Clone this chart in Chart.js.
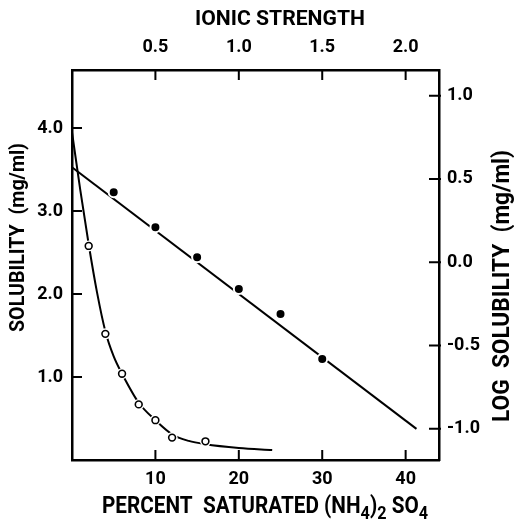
<!DOCTYPE html>
<html>
<head>
<meta charset="utf-8">
<script src="https://cdn.jsdelivr.net/npm/chart.js@4/dist/chart.umd.min.js"></script>
<style>
html, body { margin: 0; padding: 0; background: #fff; }
</style>
</head>
<body>
<canvas id="chart" width="514" height="522"></canvas>
<script>
// tick values on the four axes
const pctTicks = [10, 20, 30, 40];            // bottom: percent saturated (NH4)2SO4
const ionicTicks = [0.5, 1.0, 1.5, 2.0];      // top: ionic strength
const solTicks = [1, 2, 3, 4];                // left: solubility (mg/ml)
const logTicks = [1.0, 0.5, 0.0, -0.5, -1.0]; // right: log solubility

// open circles (solubility, left axis)
const openPct = [2, 4, 6, 8, 10, 12, 16];
const openSol = [2.58, 1.52, 1.04, 0.67, 0.48, 0.27, 0.225];

// hand drawn curve through the open circles
const curvePct = [0, 1, 2, 3, 4, 5, 6, 8, 10, 12, 14, 16, 20, 24];
const curveSol = [3.95, 3.25, 2.6, 2.02, 1.55, 1.25, 1.04, 0.69, 0.48, 0.31, 0.23, 0.19, 0.145, 0.12];

// filled circles (log solubility, right axis)
const filledPct = [5, 10, 15, 20, 25, 30];
const filledLog = [0.42, 0.21, 0.03, -0.16, -0.31, -0.58];

// straight line fitted to the filled circles
const linePct = [0, 41.3];
const lineLog = [0.57, -1.0];

const FONT = 'Roboto, "DejaVu Sans", sans-serif';

function pts(xs, ys) {
    return xs.map((x, i) => ({ x: x, y: ys[i] }));
}

function setTicks(values) {
    return function (scale) {
        scale.ticks = values.map(v => ({ value: v }));
    };
}

// tick marks point into the plot
const inwardTicks = {
    id: 'inwardTicks',
    afterDraw(chart) {
        const ctx = chart.ctx;
        const a = chart.chartArea;
        const len = 10;
        ctx.save();
        ctx.strokeStyle = '#000';
        ctx.lineWidth = 2;
        ctx.beginPath();
        chart.scales.x.ticks.forEach(t => {
            const p = chart.scales.x.getPixelForValue(t.value);
            ctx.moveTo(p, a.bottom); ctx.lineTo(p, a.bottom - len);
        });
        chart.scales.xTop.ticks.forEach(t => {
            const p = chart.scales.xTop.getPixelForValue(t.value);
            ctx.moveTo(p, a.top); ctx.lineTo(p, a.top + len);
        });
        chart.scales.y.ticks.forEach(t => {
            const p = chart.scales.y.getPixelForValue(t.value);
            ctx.moveTo(a.left, p); ctx.lineTo(a.left + len, p);
        });
        chart.scales.yR.ticks.forEach(t => {
            const p = chart.scales.yR.getPixelForValue(t.value);
            ctx.moveTo(a.right + 2, p); ctx.lineTo(a.right - len, p);
        });
        ctx.stroke();
        ctx.restore();
    }
};

// text squeezed to a given width, optionally rotated
function fitText(ctx, text, cx, y, width, rot) {
    ctx.save();
    ctx.translate(cx, y);
    ctx.rotate(rot);
    const w = ctx.measureText(text).width;
    ctx.scale(width / w, 1);
    ctx.textAlign = 'center';
    ctx.textBaseline = 'alphabetic';
    ctx.fillText(text, 0, 0);
    ctx.restore();
}

const axisTitles = {
    id: 'axisTitles',
    afterDraw(chart) {
        const ctx = chart.ctx;
        ctx.save();
        ctx.fillStyle = '#000';

        ctx.font = 'bold 21px ' + FONT;
        fitText(ctx, 'IONIC STRENGTH', 280, 25, 170, 0);
        fitText(ctx, 'SOLUBILITY  (mg/ml)', 23.5, 237.5, 189, -Math.PI / 2);

        ctx.font = 'bold 23px ' + FONT;
        fitText(ctx, 'LOG  SOLUBILITY  (mg/ml)', 508.5, 286, 272, -Math.PI / 2);

        // bottom title with subscripts
        const big = 'bold 23px ' + FONT, small = 'bold 18px ' + FONT;
        const parts = [
            { t: 'PERCENT', f: big, dy: 0 },
            { t: '  ', f: big, dy: 0 },
            { t: 'SATURATED', f: big, dy: 0 },
            { t: ' ', f: big, dy: 0 },
            { t: '(NH', f: big, dy: 0 },
            { t: '4', f: small, dy: 6 },
            { t: ')', f: big, dy: 0 },
            { t: '2', f: small, dy: 6 },
            { t: ' SO', f: big, dy: 0 },
            { t: '4', f: small, dy: 6 }
        ];
        let total = 0;
        parts.forEach(p => { ctx.font = p.f; p.w = ctx.measureText(p.t).width; total += p.w; });
        const left = 102, width = 326, base = 513;
        ctx.translate(left, base);
        ctx.scale(width / total, 1);
        ctx.textAlign = 'left';
        ctx.textBaseline = 'alphabetic';
        let x = 0;
        parts.forEach(p => { ctx.font = p.f; ctx.fillText(p.t, x, p.dy); x += p.w; });
        ctx.restore();
    }
};

const tickFont = { family: FONT, size: 18, weight: 'bold' };
const border = { display: true, color: '#000', width: 2.5 };
const noGrid = { display: false, drawTicks: false };

new Chart(document.getElementById('chart'), {
    type: 'scatter',
    data: {
        datasets: [
            {
                data: pts(filledPct, filledLog), yAxisID: 'yR', showLine: false,
                pointRadius: 5, pointBorderWidth: 2,
                pointBackgroundColor: '#000', pointBorderColor: '#fff', order: 1
            },
            {
                data: pts(linePct, lineLog), yAxisID: 'yR', showLine: true,
                borderColor: '#000', borderWidth: 2, pointRadius: 0, order: 3
            },
            {
                data: pts(openPct, openSol), yAxisID: 'y', showLine: false,
                pointRadius: 3.4, pointBorderWidth: 1.6,
                pointBackgroundColor: '#fff', pointBorderColor: '#000', order: 1
            },
            {
                // white halo that breaks the curve around each open circle
                data: pts(openPct, openSol), yAxisID: 'y', showLine: false,
                pointRadius: 5.5, pointBorderWidth: 0,
                pointBackgroundColor: '#fff', pointBorderColor: '#fff', order: 2
            },
            {
                data: pts(curvePct, curveSol), yAxisID: 'y', showLine: true,
                cubicInterpolationMode: 'monotone',
                borderColor: '#000', borderWidth: 2, pointRadius: 0, order: 3
            }
        ]
    },
    options: {
        responsive: false,
        animation: false,
        devicePixelRatio: 1,
        layout: { padding: 0 },
        plugins: { legend: { display: false }, tooltip: { enabled: false } },
        scales: {
            x: {
                type: 'linear', position: 'bottom', min: 0, max: 44,
                grid: noGrid, border: border,
                afterBuildTicks: setTicks(pctTicks),
                afterFit(s) { s.height = 62; },
                ticks: { color: '#000', font: tickFont, padding: 9, maxRotation: 0,
                         callback: v => String(v) }
            },
            xTop: {
                type: 'linear', axis: 'x', position: 'top', min: 0, max: 2.2,
                grid: noGrid, border: border,
                afterBuildTicks: setTicks(ionicTicks),
                afterFit(s) { s.height = 70; },
                ticks: { color: '#000', font: tickFont, padding: 12, maxRotation: 0,
                         callback: v => v.toFixed(1) }
            },
            y: {
                type: 'linear', position: 'left', min: 0, max: 4.7,
                grid: noGrid, border: border,
                afterBuildTicks: setTicks(solTicks),
                afterFit(s) { s.width = 72; },
                ticks: { color: '#000', font: tickFont, padding: 9,
                         callback: v => v.toFixed(1) }
            },
            yR: {
                type: 'linear', position: 'right', min: -1.187, max: 1.154,
                grid: noGrid, border: border,
                afterBuildTicks: setTicks(logTicks),
                afterFit(s) { s.width = 75; },
                ticks: { color: '#000', font: tickFont, padding: 8,
                         callback: v => v.toFixed(1) }
            }
        }
    },
    plugins: [inwardTicks, axisTitles]
});
</script>
</body>
</html>
